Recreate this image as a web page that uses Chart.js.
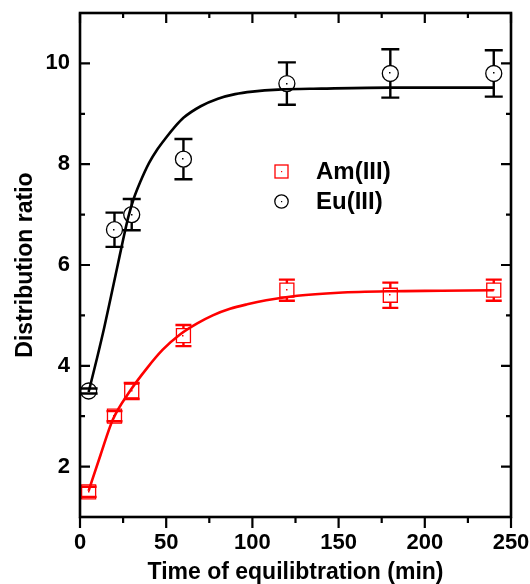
<!DOCTYPE html>
<html>
<head>
<meta charset="utf-8">
<script src="https://cdn.jsdelivr.net/npm/chart.js@4.4.0/dist/chart.umd.min.js"></script>
<style>
  html, body { margin: 0; padding: 0; background: #fff; }
</style>
</head>
<body>
<canvas id="chart" width="530" height="584"></canvas>
<script>
// measured points
var timeMin = [5, 20, 30, 60, 120, 180, 240];
var amRatio = [1.5, 3.0, 3.5, 4.6, 5.5, 5.4, 5.5];
var amErr = [0.1, 0.1, 0.16, 0.21, 0.21, 0.25, 0.21];
var euRatio = [3.5, 6.7, 7.0, 8.1, 9.6, 9.8, 9.8];
var euErr = [0.05, 0.34, 0.31, 0.4, 0.42, 0.48, 0.46];

// fitted curves
var amFitX = [5, 12, 19, 29, 39, 48, 58, 68, 77, 87, 97, 108, 126, 150, 180, 210, 240];
var amFitY = [1.52, 2.24, 2.93, 3.5, 3.96, 4.32, 4.62, 4.84, 5.0, 5.13, 5.22, 5.3, 5.39, 5.45, 5.48, 5.49, 5.5];
var euFitX = [5, 10, 14, 18, 22, 25, 28, 31, 35, 40, 45, 50, 55, 60, 70, 80, 90, 100, 115, 140, 180, 240];
var euFitY = [3.48, 4.17, 4.75, 5.38, 6.02, 6.5, 6.95, 7.3, 7.65, 8.02, 8.3, 8.53, 8.74, 8.92, 9.15, 9.3, 9.39, 9.44, 9.48, 9.5, 9.52, 9.52];

// axis ticks
var xTicks = [0, 50, 100, 150, 200, 250];
var xMinor = [25, 75, 125, 175, 225];
var yTicks = [2, 4, 6, 8, 10];
var yMinor = [3, 5, 7, 9];

var seriesNames = ['Am(III)', 'Eu(III)'];

function pts(xs, ys) {
  return xs.map(function(x, i) { return {x: x, y: ys[i]}; });
}

Chart.defaults.font.family = "'Liberation Sans', Arial, sans-serif";
Chart.defaults.color = '#000';

// frame, inward/outward ticks, error bars, centre dots, legend
var extras = {
  id: 'extras',
  afterDatasetsDraw: function(chart) {
    var ctx = chart.ctx, xs = chart.scales.x, ys = chart.scales.y;
    function bars(vals, errs, color, half, cap) {
      ctx.strokeStyle = color;
      ctx.lineWidth = 2.4;
      timeMin.forEach(function(t, i) {
        var px = xs.getPixelForValue(t);
        var py = ys.getPixelForValue(vals[i]);
        var top = ys.getPixelForValue(vals[i] + errs[i]);
        var bot = ys.getPixelForValue(vals[i] - errs[i]);
        ctx.beginPath();
        if (py - top > half) {
          ctx.moveTo(px, top); ctx.lineTo(px, py - half);
          ctx.moveTo(px, py + half); ctx.lineTo(px, bot);
        }
        ctx.moveTo(px - cap / 2, top); ctx.lineTo(px + cap / 2, top);
        ctx.moveTo(px - cap / 2, bot); ctx.lineTo(px + cap / 2, bot);
        ctx.stroke();
        ctx.fillStyle = color;
        ctx.fillRect(Math.round(px) - 1, Math.round(py) - 1, 1.5, 1.5);
      });
    }
    ctx.save();
    bars(amRatio, amErr, '#ff0000', 7, 16);
    bars(euRatio, euErr, '#000000', 8, 18);
    ctx.restore();
  },
  afterDraw: function(chart) {
    var ctx = chart.ctx, a = chart.chartArea, xs = chart.scales.x, ys = chart.scales.y;
    ctx.save();
    ctx.strokeStyle = '#000';
    ctx.lineWidth = 2.6;
    ctx.strokeRect(a.left, a.top, a.right - a.left, a.bottom - a.top);
    ctx.lineWidth = 2.2;
    ctx.beginPath();
    xTicks.concat(xMinor).forEach(function(v) {
      var px = xs.getPixelForValue(v);
      var len = xTicks.indexOf(v) >= 0 ? 10 : 5;
      ctx.moveTo(px, a.top); ctx.lineTo(px, a.top + len);
      ctx.moveTo(px, a.bottom); ctx.lineTo(px, a.bottom + len + 1);
    });
    yTicks.concat(yMinor).forEach(function(v) {
      var py = ys.getPixelForValue(v);
      var len = yTicks.indexOf(v) >= 0 ? 10 : 5;
      ctx.moveTo(a.left, py); ctx.lineTo(a.left + len, py);
      ctx.moveTo(a.right, py); ctx.lineTo(a.right - len, py);
    });
    ctx.stroke();

    // legend inside the plot
    var lx = 281.5, ly = [171.5, 201.5];
    ctx.lineWidth = 1.3;
    ctx.strokeStyle = '#ff0000';
    ctx.strokeRect(lx - 6.5, ly[0] - 6.5, 13, 13);
    ctx.fillStyle = '#ff0000';
    ctx.fillRect(lx - 0.5, ly[0] - 0.5, 1.2, 1.2);
    ctx.strokeStyle = '#000';
    ctx.beginPath();
    ctx.arc(lx, ly[1], 6.7, 0, Math.PI * 2);
    ctx.stroke();
    ctx.fillStyle = '#000';
    ctx.fillRect(lx - 0.5, ly[1] - 0.5, 1.2, 1.2);
    ctx.font = "bold 24px 'Liberation Sans', Arial, sans-serif";
    ctx.textBaseline = 'middle';
    ctx.textAlign = 'left';
    ctx.fillText(seriesNames[0], 316, ly[0] + 1);
    ctx.fillText(seriesNames[1], 316, ly[1] + 1);
    ctx.restore();
  }
};

new Chart(document.getElementById('chart').getContext('2d'), {
  type: 'scatter',
  data: {
    datasets: [
      {
        label: 'Am fit',
        data: pts(amFitX, amFitY),
        showLine: true,
        borderColor: '#ff0000',
        borderWidth: 2.6,
        pointRadius: 0,
        cubicInterpolationMode: 'monotone'
      },
      {
        label: 'Eu fit',
        data: pts(euFitX, euFitY),
        showLine: true,
        borderColor: '#000000',
        borderWidth: 2.6,
        pointRadius: 0,
        cubicInterpolationMode: 'monotone'
      },
      {
        label: seriesNames[0],
        data: pts(timeMin, amRatio),
        pointStyle: 'rect',
        pointRadius: 9.9,
        borderColor: '#ff0000',
        borderWidth: 1.3,
        backgroundColor: 'rgba(0,0,0,0)'
      },
      {
        label: seriesNames[1],
        data: pts(timeMin, euRatio),
        pointStyle: 'circle',
        pointRadius: 8,
        borderColor: '#000000',
        borderWidth: 1.3,
        backgroundColor: 'rgba(0,0,0,0)'
      }
    ]
  },
  options: {
    responsive: false,
    animation: false,
    layout: { padding: { left: 0, right: 19, top: 13, bottom: 0 } },
    plugins: { legend: { display: false }, tooltip: { enabled: false } },
    scales: {
      x: {
        type: 'linear',
        min: 0,
        max: 250,
        afterBuildTicks: function(s) { s.ticks = xTicks.map(function(v) { return {value: v}; }); },
        afterFit: function(s) { s.height = 67; s.paddingLeft = 0; s.paddingRight = 0; },
        grid: { display: false, drawTicks: false },
        border: { display: false },
        ticks: { font: { size: 22, weight: 'bold' }, padding: 13, maxRotation: 0 },
        title: {
          display: true,
          text: 'Time of equilibtration (min)',
          font: { size: 23, weight: 'bold', lineHeight: 1 },
          padding: 0
        }
      },
      y: {
        min: 1,
        max: 11,
        afterBuildTicks: function(s) { s.ticks = yTicks.map(function(v) { return {value: v}; }); },
        afterFit: function(s) { s.width = 80; s.paddingTop = 0; s.paddingBottom = 0; },
        grid: { display: false, drawTicks: false },
        border: { display: false },
        ticks: { font: { size: 22, weight: 'bold' }, padding: 10 },
        title: {
          display: true,
          text: 'Distribution ratio',
          font: { size: 23, weight: 'bold', lineHeight: 1 },
          padding: { top: 14 }
        }
      }
    }
  },
  plugins: [extras]
});
</script>
</body>
</html>
